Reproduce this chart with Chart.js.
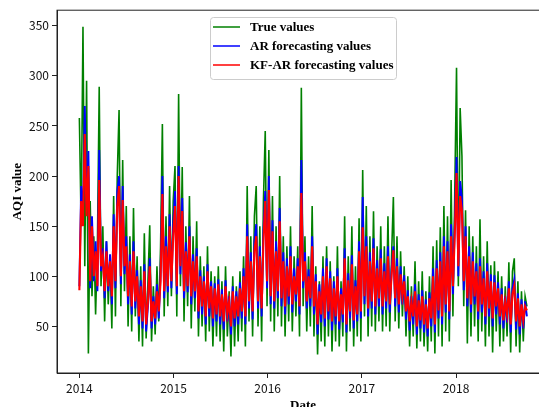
<!DOCTYPE html>
<html>
<head>
<meta charset="utf-8">
<script src="https://cdn.jsdelivr.net/npm/chart.js@4.4.0/dist/chart.umd.min.js"></script>
<style>
  html, body { margin: 0; padding: 0; background: #fff; overflow: hidden; width: 539px; height: 407px; }
  #wrap { width: 560px; height: 420px; }
</style>
</head>
<body>
<div id="wrap"><canvas id="chart" width="560" height="420"></canvas></div>
<script>
// weekly samples starting 2014-01-01
const START_YEAR = 2014
const STEP_DAYS = 7
const yearTicks = [2014, 2015, 2016, 2017, 2018]
const labels = ['True values', 'AR forecasting values', 'KF-AR forecasting values']
const COLOUR = ['#008000', '#0000ff', '#ff0000']
const WIDTHS = [1.6, 1.9, 2.1]

const trueValues = [
  258, 150, 349, 110, 295, 23, 175, 80, 140, 62, 130, 289, 90,
  150, 55, 135, 72, 120, 48, 180, 60, 200, 266, 70, 216, 85,
  170, 50, 140, 45, 168, 60, 120, 35, 110, 30, 143, 38, 95,
  151, 35, 90, 42, 110, 55, 130, 252, 60, 160, 70, 190, 80,
  175, 210, 60, 282, 90, 209, 55, 150, 70, 180, 48, 140, 65,
  155, 40, 120, 50, 110, 35, 130, 45, 105, 30, 100, 40, 110,
  35, 95, 25, 110, 40, 85, 20, 100, 30, 90, 35, 105, 45,
  120, 30, 190, 55, 140, 40, 160, 190, 50, 150, 35, 175, 245,
  70, 226, 55, 180, 45, 150, 60, 200, 50, 140, 40, 130, 55,
  150, 45, 120, 60, 130, 40, 288, 70, 140, 45, 120, 50, 170,
  40, 110, 22, 95, 35, 120, 30, 130, 40, 115, 25, 100, 35,
  130, 30, 95, 40, 160, 25, 120, 45, 150, 30, 110, 40, 158,
  35, 206, 60, 170, 40, 140, 50, 165, 45, 130, 55, 150, 45,
  130, 50, 160, 45, 120, 179, 55, 140, 48, 125, 60, 110, 40,
  100, 30, 90, 40, 115, 28, 95, 35, 105, 30, 85, 25, 100,
  35, 130, 23, 136, 40, 149, 30, 170, 45, 160, 35, 196, 60,
  180, 308, 90, 268, 220, 70, 166, 33, 150, 40, 140, 50, 130,
  35, 157, 45, 120, 30, 135, 40, 111, 24, 115, 45, 105, 30,
  100, 35, 90, 40, 114, 24, 105, 118, 30, 95, 24, 85, 35, 80, 70
]

const arValues = [
  90, 190, 160, 270, 170, 225, 88, 160, 95, 135, 85, 226, 105,
  128, 78, 135, 85, 122, 72, 162, 88, 185, 200, 92, 190, 102,
  140, 72, 122, 62, 135, 68, 106, 52, 96, 48, 112, 45, 70,
  118, 48, 80, 52, 92, 58, 102, 200, 78, 140, 84, 162, 88,
  152, 185, 82, 210, 102, 178, 78, 134, 84, 150, 72, 122, 78,
  128, 58, 106, 62, 100, 52, 112, 60, 95, 50, 93, 55, 97,
  52, 87, 47, 96, 55, 80, 42, 90, 50, 85, 52, 94, 58,
  108, 52, 152, 68, 124, 57, 135, 152, 68, 130, 60, 146, 185,
  88, 200, 72, 156, 68, 135, 78, 168, 70, 124, 62, 118, 72,
  130, 64, 108, 75, 118, 62, 216, 88, 124, 68, 107, 70, 140,
  62, 102, 42, 92, 54, 108, 50, 118, 57, 105, 46, 95, 52,
  108, 47, 88, 54, 128, 44, 103, 58, 121, 48, 96, 55, 135,
  58, 179, 72, 140, 60, 124, 68, 138, 62, 116, 70, 127, 62,
  113, 68, 130, 64, 107, 130, 70, 118, 64, 110, 72, 101, 57,
  86, 46, 80, 52, 92, 42, 82, 48, 86, 44, 77, 40, 84,
  50, 108, 44, 116, 58, 124, 52, 140, 64, 135, 57, 152, 82,
  152, 219, 100, 195, 178, 86, 150, 70, 130, 64, 124, 72, 113,
  57, 118, 64, 105, 52, 113, 60, 102, 50, 101, 62, 94, 52,
  88, 48, 80, 54, 95, 44, 88, 97, 47, 83, 42, 77, 48, 75, 60
]

const kfarValues = [
  86, 175, 150, 242, 160, 210, 95, 150, 100, 125, 90, 196, 110,
  120, 85, 125, 90, 115, 80, 150, 95, 170, 190, 100, 176, 110,
  130, 80, 115, 70, 125, 75, 100, 60, 90, 55, 105, 52, 75,
  110, 55, 75, 58, 85, 65, 95, 182, 85, 130, 90, 150, 95,
  140, 170, 90, 200, 110, 165, 85, 125, 90, 140, 80, 115, 85,
  120, 65, 100, 70, 95, 60, 105, 68, 90, 58, 88, 62, 92,
  60, 82, 55, 90, 62, 75, 50, 85, 58, 80, 60, 88, 65,
  100, 60, 140, 75, 115, 65, 125, 140, 75, 120, 68, 135, 175,
  95, 186, 80, 145, 75, 125, 85, 155, 78, 115, 70, 110, 80,
  120, 72, 100, 82, 110, 70, 183, 95, 115, 75, 100, 78, 130,
  70, 95, 52, 85, 62, 100, 58, 110, 65, 98, 55, 88, 60,
  100, 55, 82, 62, 118, 52, 96, 65, 112, 56, 90, 62, 125,
  65, 149, 80, 130, 68, 115, 75, 128, 70, 108, 78, 118, 70,
  105, 75, 120, 72, 100, 126, 78, 110, 72, 102, 80, 95, 65,
  80, 55, 75, 60, 85, 50, 76, 56, 80, 52, 72, 48, 78,
  58, 100, 52, 108, 66, 115, 60, 130, 72, 125, 65, 140, 90,
  140, 203, 110, 180, 165, 95, 140, 78, 120, 72, 115, 80, 105,
  65, 110, 72, 98, 60, 105, 68, 95, 58, 94, 70, 88, 60,
  82, 56, 75, 62, 88, 52, 82, 90, 55, 78, 50, 72, 56, 70, 66
]

// helpers
const toPoints = (arr) => arr.map((y, i) => ({ x: START_YEAR + i * STEP_DAYS / 365.25, y }))
const tickFont = { family: "'Noto Sans CJK JP', 'Liberation Sans', sans-serif", size: 12 }
const titleFont = { family: "'Liberation Serif', serif", size: 13, weight: 'bold' }

// frame + legend box drawn inside the plot
const framePlugin = {
  id: 'frame',
  afterDraw(chart) {
    const { ctx, chartArea: a } = chart
    ctx.save()
    ctx.strokeStyle = '#222'
    ctx.lineWidth = 1
    ctx.strokeRect(a.left, a.top, a.right - a.left, a.bottom - a.top)

    const x = 210, y = 17, w = 186, h = 62
    ctx.beginPath()
    ctx.roundRect(x + 0.5, y + 0.5, w, h, 3)
    ctx.fillStyle = 'rgba(255,255,255,0.8)'
    ctx.fill()
    ctx.strokeStyle = '#cccccc'
    ctx.stroke()

    ctx.font = 'bold 13px "Liberation Serif", serif'
    ctx.textBaseline = 'middle'
    labels.forEach((label, i) => {
      const ly = 27 + i * 19
      ctx.strokeStyle = COLOUR[i]
      ctx.lineWidth = 1.5
      ctx.beginPath()
      ctx.moveTo(213, ly)
      ctx.lineTo(240, ly)
      ctx.stroke()
      ctx.fillStyle = '#000'
      ctx.fillText(label, 250, ly + 1)
    })
    ctx.restore()
  }
}

const scales = {
  x: {
    type: 'linear',
    min: 2013.7625,
    max: 2018.9875,
    afterFit: (s) => { s.height = 47 },
    afterBuildTicks: (s) => { s.ticks = yearTicks.map((v) => ({ value: v })) },
    ticks: { font: tickFont, color: '#111', padding: 3, maxRotation: 0, callback: (v) => String(v) },
    grid: { drawOnChartArea: false, tickLength: 5, tickColor: '#222' },
    border: { color: '#222' },
    title: { display: true, text: 'Date', font: titleFont, color: '#000', padding: { top: 0, bottom: 7 } }
  },
  y: {
    min: 3.5,
    max: 365.5,
    afterFit: (s) => { s.width = 57 },
    ticks: { stepSize: 50, includeBounds: false, font: tickFont, color: '#111', padding: 3 },
    grid: { drawOnChartArea: false, tickLength: 5, tickColor: '#222' },
    border: { color: '#222' },
    title: { display: true, text: 'AQI value', font: titleFont, color: '#000', padding: { top: 10, bottom: 0 } }
  }
}

function createChart() {
  const ctx = document.getElementById('chart')
  const series = [trueValues, arValues, kfarValues]
  const config = {
    type: 'line',
    data: {
      datasets: series.map((d, i) => ({
        label: labels[i],
        data: toPoints(d),
        borderColor: COLOUR[i],
        backgroundColor: COLOUR[i],
        borderWidth: WIDTHS[i],
        pointRadius: 0,
        tension: 0,
        order: 2 - i
      }))
    },
    options: {
      responsive: false,
      animation: false,
      layout: { padding: { top: 10, right: 11, left: 0, bottom: 0 } },
      scales,
      plugins: { legend: { display: false }, tooltip: { enabled: false } }
    },
    plugins: [framePlugin]
  }
  return new Chart(ctx, config)
}
createChart()
</script>
</body>
</html>
